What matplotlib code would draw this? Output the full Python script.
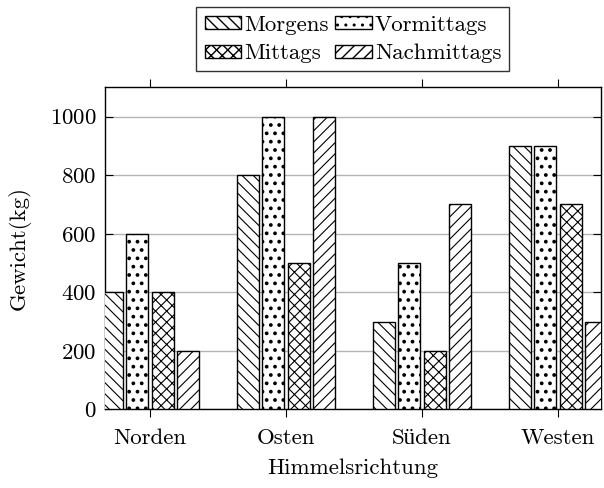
import numpy as np
import matplotlib
matplotlib.use("Agg")
import matplotlib.pyplot as plt

plt.rcParams["font.family"] = ["cmr10", "Liberation Serif"]
plt.rcParams["axes.formatter.use_mathtext"] = True

# data
regions = ["Norden", "Osten", "Süden", "Westen"]
series = ["Morgens", "Vormittags", "Mittags", "Nachmittags"]
morgens = [400, 800, 300, 900]
vormittags = [600, 1000, 500, 900]
mittags = [400, 500, 200, 700]
nachmittags = [200, 1000, 700, 300]
values = [morgens, vormittags, mittags, nachmittags]
hatches = ["\\\\\\", "..", "xxx", "///"]
hatch_lw = [0.8, 1.5, 0.8, 0.8]
yticks = [0, 200, 400, 600, 800, 1000]

fig = plt.figure(figsize=(6.04, 4.88), dpi=100)
ax = fig.add_axes([0.1738, 0.161, 0.8212, 0.660])

x = np.arange(len(regions))
step, width = 0.1875, 0.162
bars = []
for i, (name, vals, h) in enumerate(zip(series, values, hatches)):
    with plt.rc_context({"hatch.linewidth": hatch_lw[i]}):
        b = ax.bar(x + (i - 1.5) * step, vals, width, label=name, color="white",
                   edgecolor="black", linewidth=1.0, hatch=h, zorder=3)
    bars.append(b)

ax.set_xlim(-0.331, 3.316)
ax.set_ylim(0, 1100)
ax.set_xticks(x)
ax.set_xticklabels(regions)
ax.set_yticks(yticks)
ax.yaxis.grid(True, color="#b4b4b4", linewidth=1.0, zorder=0)
ax.set_axisbelow(True)
ax.tick_params(axis="x", direction="out", top=True, length=6, width=0.8,
               labelsize=16.5, pad=8)
ax.tick_params(axis="y", direction="in", right=True, length=6, width=0.8,
               labelsize=16.5, pad=6)
for s in ax.spines.values():
    s.set_linewidth(1.0)

ax.set_xlabel("Himmelsrichtung", fontsize=16.5, labelpad=7)
ax.set_ylabel("Gewicht(kg)", fontsize=16.5, labelpad=14)

# row-wise legend order: Morgens Vormittags / Mittags Nachmittags
order = [0, 2, 1, 3]
leg = ax.legend([bars[k] for k in order], [series[k] for k in order],
                loc="lower center", bbox_to_anchor=(0.5, 1.05), ncol=2,
                fontsize=16.5, frameon=True, fancybox=False, edgecolor="black",
                handlelength=1.6, handleheight=0.5, handletextpad=0.15,
                columnspacing=0.25, borderpad=0.35, labelspacing=0.4,
                borderaxespad=0)
leg.get_frame().set_linewidth(1.0)

fig.savefig("out.png", dpi=100)
